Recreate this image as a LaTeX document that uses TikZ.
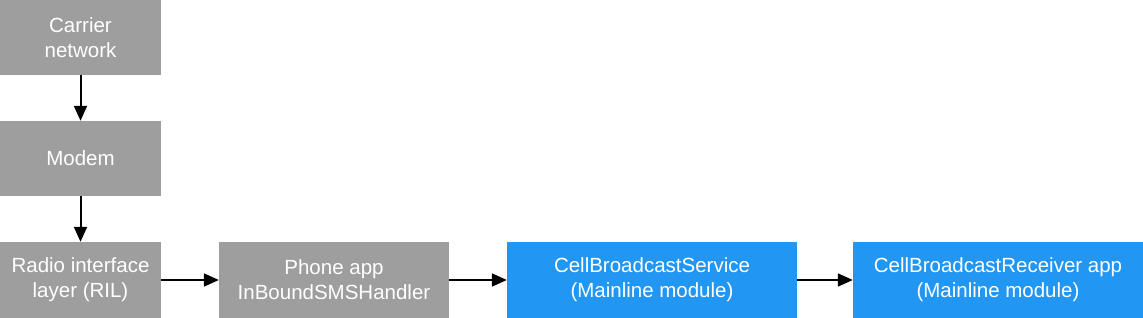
\documentclass[tikz,border=0pt]{standalone}
\usepackage{fontspec}
\setmainfont{Liberation Sans}
\usetikzlibrary{arrows.meta}
\definecolor{boxgray}{HTML}{9E9E9E}
\definecolor{boxblue}{HTML}{2196F3}
\begin{document}
\begin{tikzpicture}[x=1pt, y=-1pt,
          block/.style={fill=boxgray, text=white, align=center, inner sep=0pt,
            minimum height=75pt, font=\fontsize{20.5}{25}\selectfont},
          mainline/.style={block, fill=boxblue},
          flow/.style={line width=2pt, -{Triangle[length=15pt, width=13pt]}},
        ]
          \useasboundingbox (0,0) rectangle (1143,318);
          \node[block, minimum width=161pt]    (carrier) at (80.5, 37.5) {Carrier\\network};
          \node[block, minimum width=161pt]    (modem)   at (80.5, 158.5) {Modem};
          \node[block, minimum width=161pt, minimum height=76pt] (ril) at (80.5, 280) {Radio interface\\layer (RIL)};
          \node[block, minimum width=230pt, minimum height=76pt] (phone) at (334, 280) {Phone app\\InBoundSMSHandler};
          \node[mainline, minimum width=290pt, minimum height=76pt] (cbs) at (652, 280) {CellBroadcastService\\(Mainline module)};
          \node[mainline, minimum width=290pt, minimum height=76pt] (cbr) at (998, 280) {CellBroadcastReceiver app\\(Mainline module)};
          \draw[flow] (carrier) -- (modem);
          \draw[flow] (modem)   -- (ril);
          \draw[flow] (ril)     -- (phone);
          \draw[flow] (phone)   -- (cbs);
          \draw[flow] (cbs)     -- (cbr);
        \end{tikzpicture}
\end{document}
